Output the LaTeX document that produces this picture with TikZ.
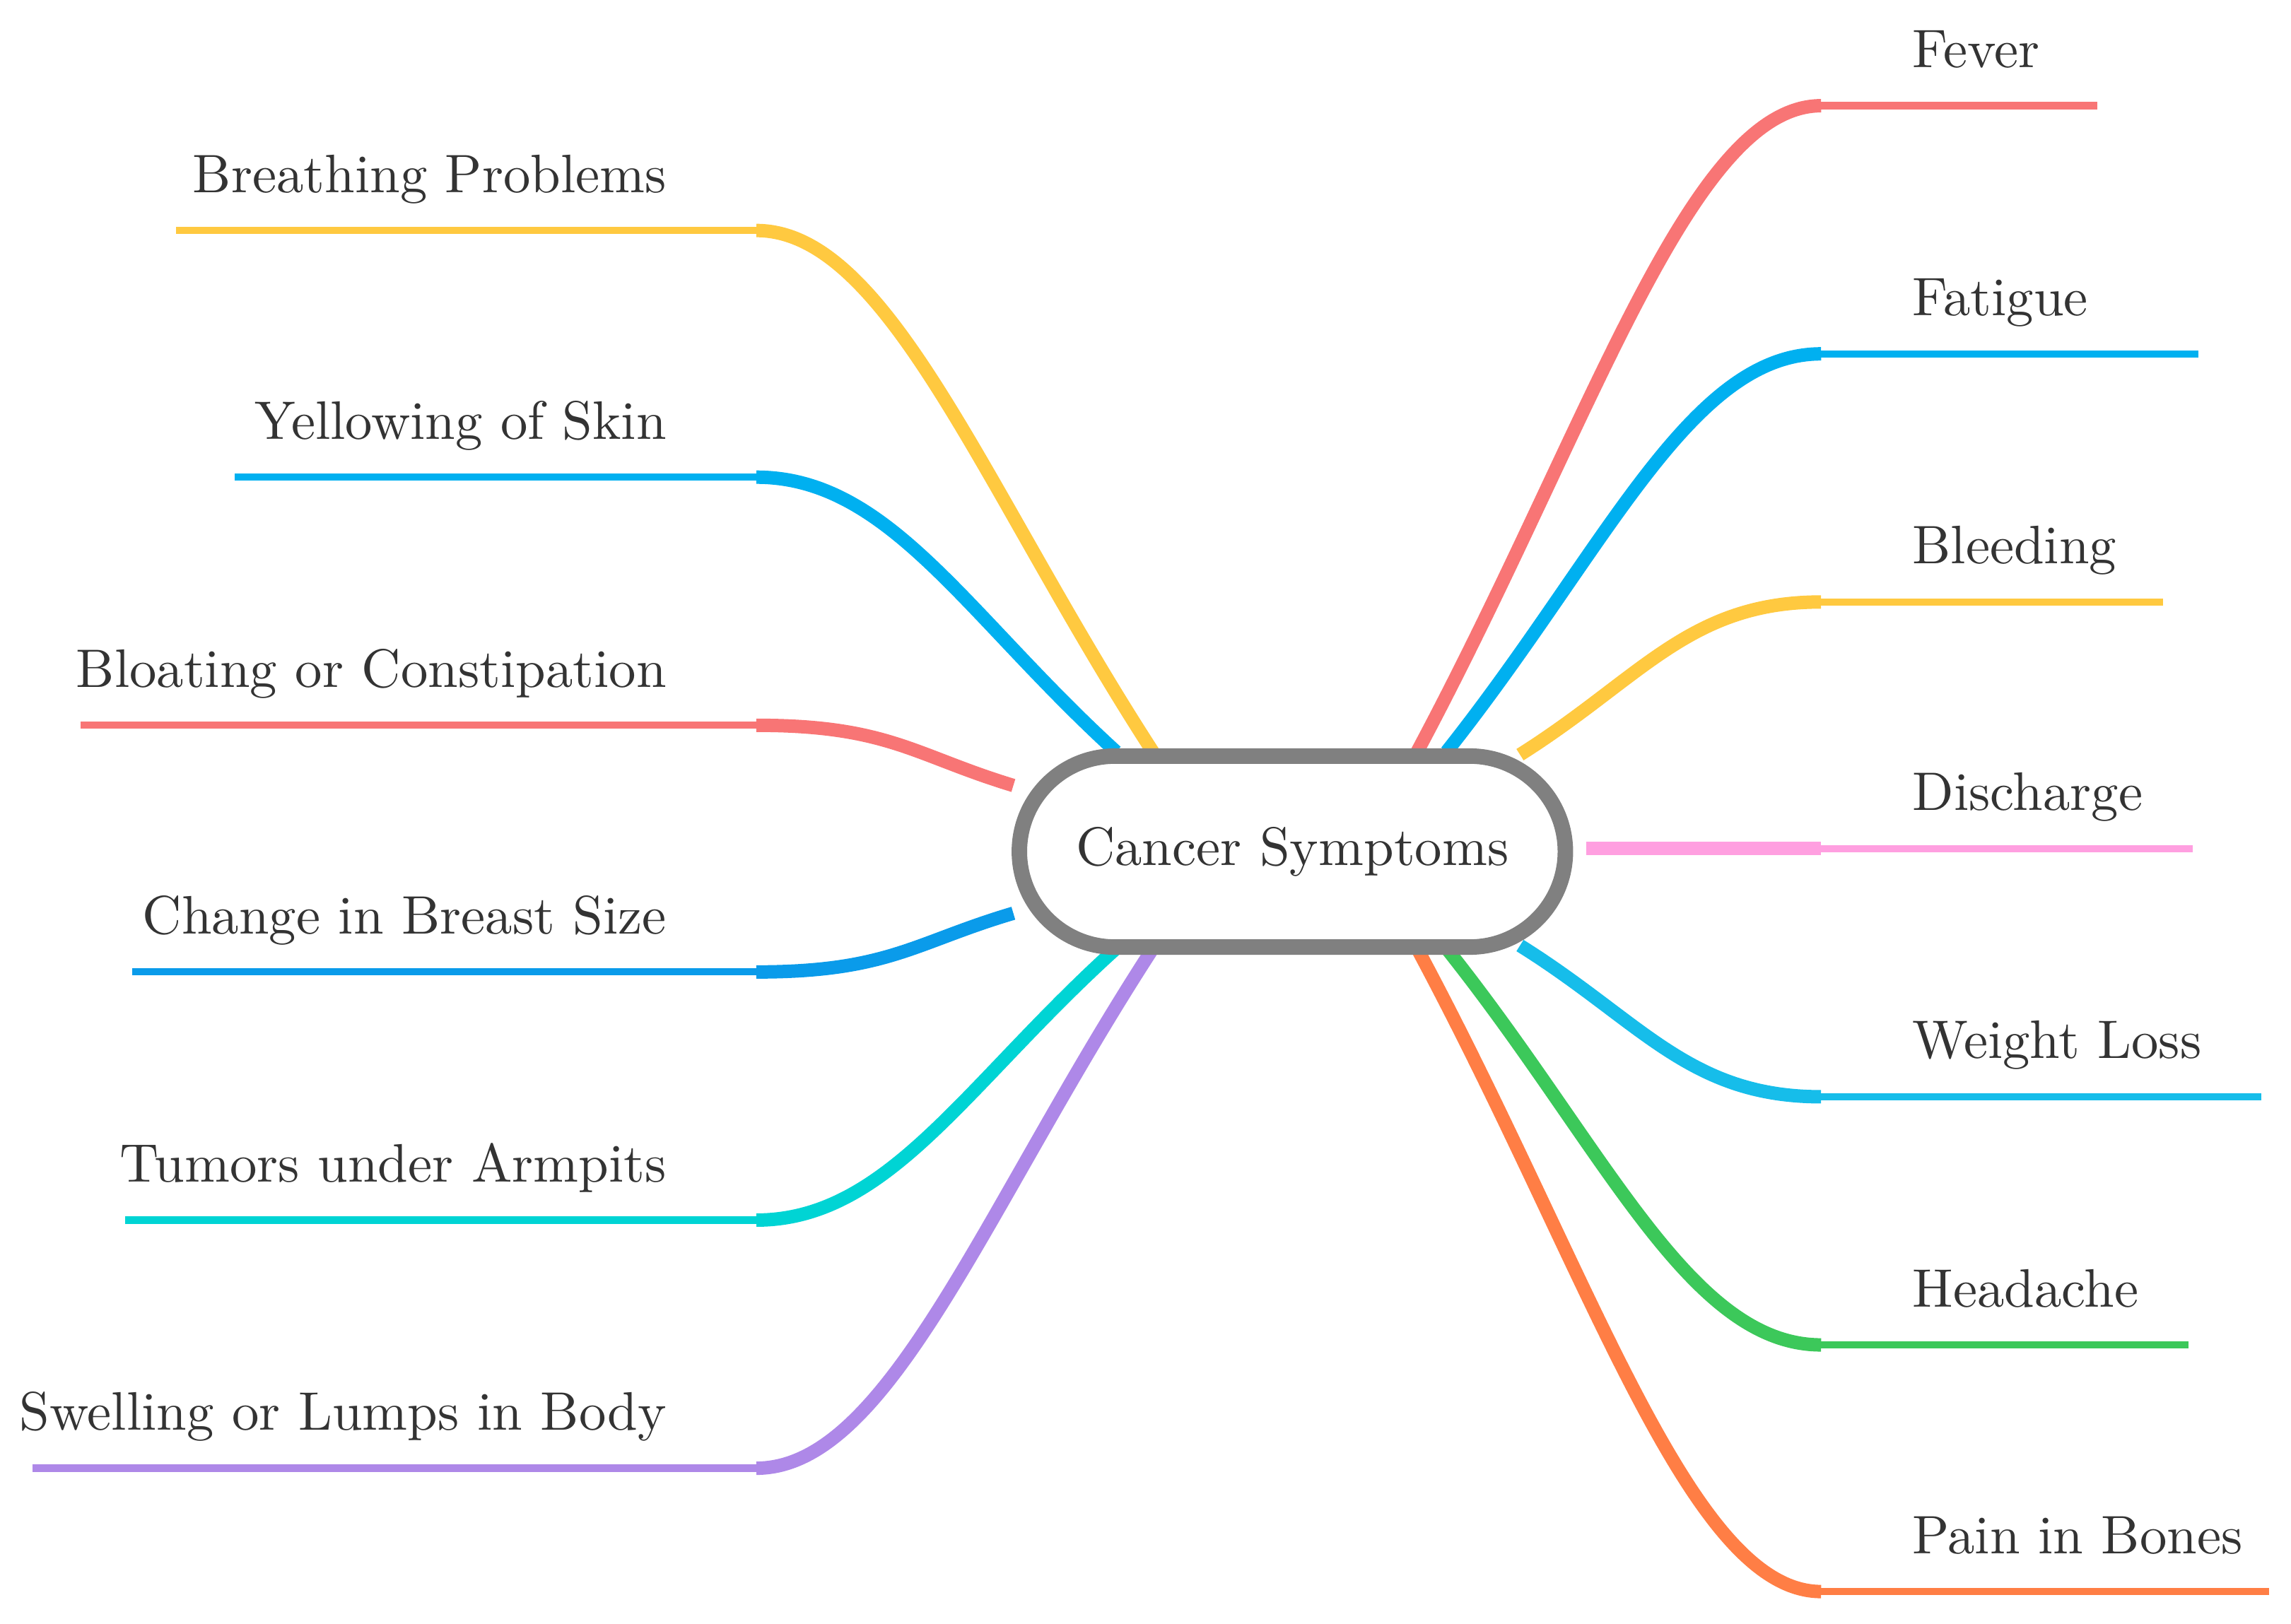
\documentclass[tikz,border=0pt]{standalone}
\usetikzlibrary{shapes.misc}

\definecolor{cRed}{HTML}{F87575}
\definecolor{cBlue}{HTML}{00B0F0}
\definecolor{cYel}{HTML}{FFC940}
\definecolor{cPink}{HTML}{FF9FE0}
\definecolor{cSky}{HTML}{16BDEA}
\definecolor{cGreen}{HTML}{3CC85A}
\definecolor{cOrange}{HTML}{FF7E45}
\definecolor{cDeep}{HTML}{0A9BEA}
\definecolor{cTeal}{HTML}{00D4D4}
\definecolor{cPurple}{HTML}{AE88E8}

\tikzset{
  branch/.style={line width=2.6pt},
  leaf/.style={line width=1.4pt},
  lbl/.style={font=\fontsize{10.5}{12}\selectfont, text=black!80, inner sep=1pt},
  hub/.style={rounded rectangle, draw=gray, line width=3pt, fill=white,
    minimum width=3.95cm, minimum height=1.3cm, font=\fontsize{10.5}{12}\selectfont, text=black!80}
}

\begin{document}
\begin{tikzpicture}[x=0.01cm, y=-0.01cm]
    \useasboundingbox (0,0) rectangle (1560,1106);

    % right side
    \foreach \nm/\sx/\sy/\ly/\ex/\col/\txt in {
      fev/965/512/72/1428/cRed/Fever,
      fat/985/512/241/1497/cBlue/Fatigue,
      ble/1035/514/410/1473/cYel/Bleeding,
      dis/1080/578/578/1493/cPink/Discharge,
      wei/1035/644/747/1540/cSky/Weight Loss,
      hea/985/646/916/1490/cGreen/Headache,
      pai/965/646/1084/1545/cOrange/Pain in Bones}{
      \coordinate (\nm s) at (\sx,\sy);
      \coordinate (\nm m) at (1240,\ly);
      \coordinate (\nm e) at (\ex,\ly);
      \node[lbl, anchor=base west] (\nm) at (1298,\ly-26) {\txt};
      \draw[branch, \col] (\nm s) .. controls ({(\sx+1240)/2-20},{(\sy+\ly)/2}) and (1150,\ly) .. (\nm m);
      \draw[leaf, \col] (\nm m) -- (\nm e);
    }

    % left side
    \foreach \nm/\sx/\sy/\ly/\ex/\col/\txt in {
      bre/785/512/157/120/cYel/Breathing Problems,
      yel/760/512/325/160/cBlue/Yellowing of Skin,
      blo/690/535/494/55/cRed/Bloating or Constipation,
      cha/690/622/662/90/cDeep/Change in Breast Size,
      tum/760/646/831/85/cTeal/Tumors under Armpits,
      swe/785/646/1000/22/cPurple/Swelling or Lumps in Body}{
      \coordinate (\nm s) at (\sx,\sy);
      \coordinate (\nm m) at (515,\ly);
      \coordinate (\nm e) at (\ex,\ly);
      \node[lbl, anchor=base east] (\nm) at (458,\ly-26) {\txt};
      \draw[branch, \col] (\nm s) .. controls ({(\sx+515)/2+20},{(\sy+\ly)/2}) and (605,\ly) .. (\nm m);
      \draw[leaf, \col] (\nm m) -- (\nm e);
    }

    \node[hub] (hub) at (880,580) {Cancer Symptoms};
\end{tikzpicture}
\end{document}
